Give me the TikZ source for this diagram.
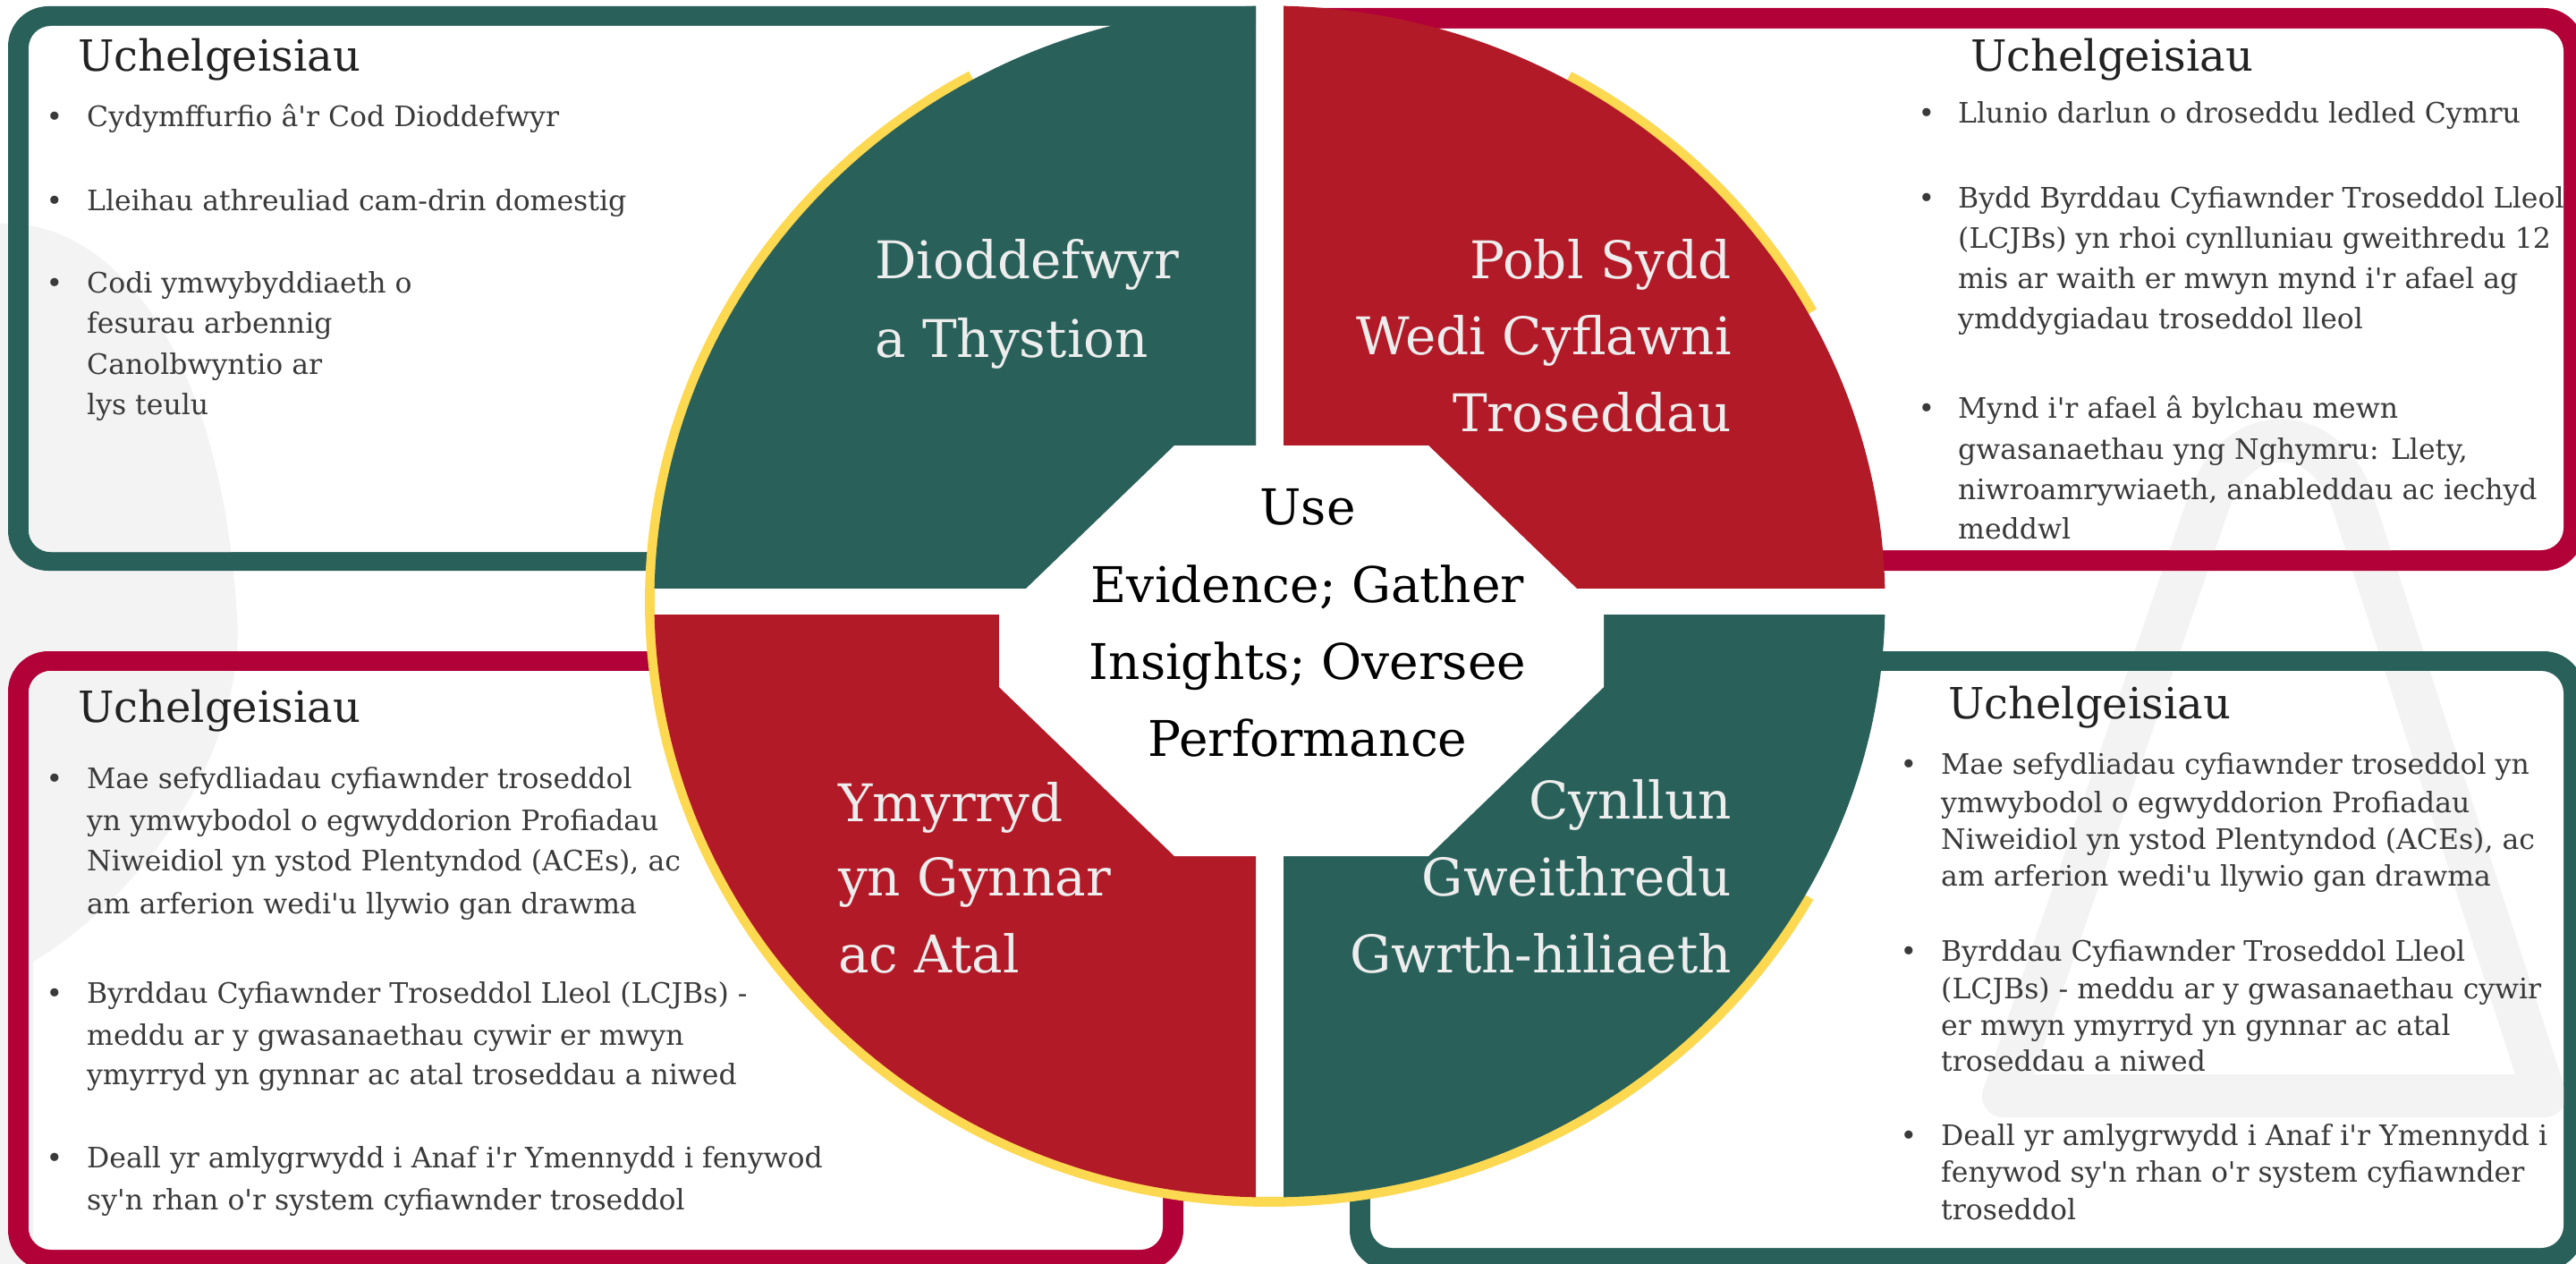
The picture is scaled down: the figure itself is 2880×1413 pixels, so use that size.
\documentclass[tikz,border=0pt]{standalone}
\usepackage{fontspec}
\setmainfont{DejaVu Serif}[Ligatures=TeXOff]
\definecolor{qgreen}{HTML}{29615A}
\definecolor{qred}{HTML}{B31A27}
\definecolor{bcrim}{HTML}{B20038}
\definecolor{ringc}{HTML}{FDD851}
\definecolor{labc}{HTML}{EDEDED}
\definecolor{txtc}{HTML}{3A3A3A}
\definecolor{hdc}{HTML}{222222}
\definecolor{wmc}{HTML}{F3F3F3}
\newcommand\wmLeftShape{(0,250) .. controls (120,245) and (250,380) .. (266,706)
  .. controls (262,880) and (130,1020) .. (37,1075) -- (37,1413) -- (-10,1413) -- (-10,250) -- cycle}
\newcommand\wmRightShape{(2240,1225) -- (2470,560) .. controls (2500,470) and (2600,470) .. (2630,560) -- (2845,1225) -- cycle}
\begin{document}
\begin{tikzpicture}[x=1pt,y=-1pt,
  bul/.style={font=\fontsize{31.5}{40}\selectfont, text=txtc, inner sep=0pt, anchor=base west},
  bdot/.style={font=\fontsize{31.5}{40}\selectfont, text=txtc, inner sep=0pt, anchor=base},
  head/.style={font=\fontsize{48}{58}\selectfont, text=hdc, inner sep=0pt, anchor=base west},
  qlab/.style={font=\fontsize{58}{86}\selectfont, text=labc, inner sep=0pt},
  ctr/.style={font=\fontsize{55}{86}\selectfont, text=black, inner sep=0pt, anchor=base},
  ringline/.style={ringc, line width=11pt},
  wmline/.style={wmc, line width=48pt, line join=round}
]
\useasboundingbox (0,0) rectangle (2880,1413);
\fill[white] (0,0) rectangle (2880,1413);

% ---------- faint watermark (background) ----------
\fill[wmc] \wmLeftShape;
\draw[wmline] \wmRightShape;

% ---------- boxes ----------
\begin{scope}
  \clip (0,0) rectangle (1404,700);
  \fill[qgreen, rounded corners=45pt] (9,7) rectangle (1500,638);
  \fill[white, rounded corners=25pt] (32,29) rectangle (1480,617);
  \clip[rounded corners=25pt] (32,29) rectangle (1480,617);
  \fill[wmc] \wmLeftShape;
\end{scope}
\begin{scope}
  \clip (1435,0) rectangle (2880,700);
  \fill[bcrim, rounded corners=45pt] (1340,9) rectangle (2889,638);
  \fill[white, rounded corners=25pt] (1360,32) rectangle (2866,615);
  \clip[rounded corners=25pt] (1360,32) rectangle (2866,615);
  \draw[wmline] \wmRightShape;
\end{scope}
\fill[bcrim, rounded corners=45pt] (9,728) rectangle (1323,1420);
\fill[white, rounded corners=25pt] (32,750) rectangle (1300,1397);
\begin{scope}
  \clip[rounded corners=25pt] (32,750) rectangle (1300,1397);
  \fill[wmc] \wmLeftShape;
\end{scope}
\fill[qgreen, rounded corners=45pt] (1509,728) rectangle (2889,1420);
\fill[white, rounded corners=25pt] (1532,750) rectangle (2866,1395);
\begin{scope}
  \clip[rounded corners=25pt] (1532,750) rectangle (2866,1395);
  \draw[wmline] \wmRightShape;
\end{scope}

% ---------- yellow ring ----------
\draw[ringline] plot[domain=29.5:241.2, samples=150, smooth] ({1419.5+693*cos(\x)}, {672.5+671*sin(\x)});
\draw[ringline] plot[domain=-61.1:-28.9, samples=40, smooth] ({1419.5+693*cos(\x)}, {672.5+671*sin(\x)});

% ---------- quadrants ----------
\begin{scope}
  \clip (0,0) rectangle (1404,657);
  \fill[qgreen] (1419.5,672.5) ellipse [x radius=688pt, y radius=666pt];
\end{scope}
\begin{scope}
  \clip (1435,0) rectangle (2880,657);
  \fill[qred] (1419.5,672.5) ellipse [x radius=688pt, y radius=666pt];
\end{scope}
\begin{scope}
  \clip (0,687) rectangle (1404,1413);
  \fill[qred] (1419.5,672.5) ellipse [x radius=688pt, y radius=666pt];
\end{scope}
\begin{scope}
  \clip (1435,687) rectangle (2880,1413);
  \fill[qgreen] (1419.5,672.5) ellipse [x radius=688pt, y radius=666pt];
\end{scope}

% ---------- centre octagon ----------
\fill[white] (1313,498) -- (1597,498) -- (1793,687) -- (1793,768) -- (1597,957)
  -- (1313,957) -- (1117,768) -- (1117,687) -- cycle;

\node[ctr] (c1) at (1462,586) {Use};
\node[ctr] (c2) at (1462,673) {Evidence; Gather};
\node[ctr] (c3) at (1462,759) {Insights; Oversee};
\node[ctr] (c4) at (1462,845) {Performance};

% ---------- quadrant labels ----------
\node[qlab, anchor=base west] (q1a) at (978,311) {Dioddefwyr};
\node[qlab, anchor=base west] (q1b) at (978,399) {a Thystion};
\node[qlab, anchor=base east] (q2a) at (1936,311) {Pobl Sydd};
\node[qlab, anchor=base east] (q2b) at (1936,396) {Wedi Cyflawni};
\node[qlab, anchor=base east] (q2c) at (1936,482) {Troseddau};
\node[qlab, anchor=base west] (q3a) at (937,918) {Ymyrryd};
\node[qlab, anchor=base west] (q3b) at (937,1001) {yn Gynnar};
\node[qlab, anchor=base west] (q3c) at (937,1087) {ac Atal};
\node[qlab, anchor=base east] (q4a) at (1936,915) {Cynllun};
\node[qlab, anchor=base east] (q4b) at (1936,1001) {Gweithredu};
\node[qlab, anchor=base east] (q4c) at (1936,1087) {Gwrth-hiliaeth};

% ---------- headings ----------
\node[head] (h1) at (87,79) {Uchelgeisiau};
\node[head] (h2) at (2203,79) {Uchelgeisiau};
\node[head] (h3) at (87,807) {Uchelgeisiau};
\node[head] (h4) at (2178,803) {Uchelgeisiau};

% ---------- bullet texts ----------
\foreach \ly/\lt [count=\i] in {
  141/{Cydymffurfio â'r Cod Dioddefwyr},
  235/{Lleihau athreuliad cam-drin domestig},
  327/{Codi ymwybyddiaeth o},
  372/{fesurau arbennig},
  418/{Canolbwyntio ar},
  463/{lys teulu}}
  \node[bul] (tl\i) at (97,\ly) {\lt};
\foreach \ly [count=\i] in {141,235,327}
  \node[bdot] (tld\i) at (61,\ly) {•};

\foreach \ly/\lt [count=\i] in {
  137/{Llunio darlun o droseddu ledled Cymru},
  232/{Bydd Byrddau Cyfiawnder Troseddol Lleol},
  277/{(LCJBs) yn rhoi cynlluniau gweithredu 12},
  322/{mis ar waith er mwyn mynd i'r afael ag},
  367/{ymddygiadau troseddol lleol},
  467/{Mynd i'r afael â bylchau mewn},
  513/{gwasanaethau yng Nghymru: Llety,},
  558/{niwroamrywiaeth, anableddau ac iechyd},
  602/{meddwl}}
  \node[bul] (tr\i) at (2189,\ly) {\lt};
\foreach \ly [count=\i] in {137,232,467}
  \node[bdot] (trd\i) at (2154,\ly) {•};

\foreach \ly/\lt [count=\i] in {
  881/{Mae sefydliadau cyfiawnder troseddol},
  928/{yn ymwybodol o egwyddorion Profiadau},
  973/{Niweidiol yn ystod Plentyndod (ACEs), ac},
  1021/{am arferion wedi'u llywio gan drawma},
  1121/{Byrddau Cyfiawnder Troseddol Lleol (LCJBs) -},
  1168/{meddu ar y gwasanaethau cywir er mwyn},
  1212/{ymyrryd yn gynnar ac atal troseddau a niwed},
  1305/{Deall yr amlygrwydd i Anaf i'r Ymennydd i fenywod},
  1352/{sy'n rhan o'r system cyfiawnder troseddol}}
  \node[bul] (bl\i) at (97,\ly) {\lt};
\foreach \ly [count=\i] in {881,1121,1305}
  \node[bdot] (bld\i) at (61,\ly) {•};

\foreach \ly/\lt [count=\i] in {
  865/{Mae sefydliadau cyfiawnder troseddol yn},
  908/{ymwybodol o egwyddorion Profiadau},
  949/{Niweidiol yn ystod Plentyndod (ACEs), ac},
  990/{am arferion wedi'u llywio gan drawma},
  1074/{Byrddau Cyfiawnder Troseddol Lleol},
  1116/{(LCJBs) - meddu ar y gwasanaethau cywir},
  1157/{er mwyn ymyrryd yn gynnar ac atal},
  1197/{troseddau a niwed},
  1280/{Deall yr amlygrwydd i Anaf i'r Ymennydd i},
  1321/{fenywod sy'n rhan o'r system cyfiawnder},
  1363/{troseddol}}
  \node[bul] (br\i) at (2170,\ly) {\lt};
\foreach \ly [count=\i] in {865,1074,1280}
  \node[bdot] (brd\i) at (2134,\ly) {•};
\end{tikzpicture}
\end{document}
